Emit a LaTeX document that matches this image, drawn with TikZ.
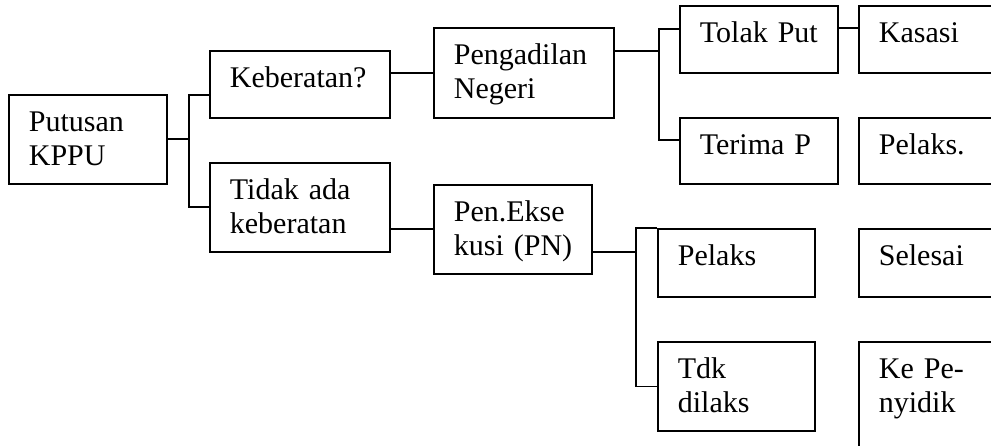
\documentclass[tikz,border=0pt]{standalone}
\usepackage{fontspec}
\setmainfont{Liberation Serif}
\begin{document}
\begin{tikzpicture}[x=1pt,y=-1pt,line width=1.8pt,
    box/.style 2 args={draw,anchor=north west,align=left,inner xsep=20pt,inner ysep=0pt,
        text width=#1pt-40pt,text height=37pt,text depth=#2pt-37pt,
        font=\fontsize{30}{34}\selectfont}]
        \useasboundingbox(0,0)rectangle(991,446);
        \clip(0,0)rectangle(991,446);
        \node[box={158}{89}](putusan)at(8,94){Putusan\\KPPU};
        \node[box={180}{67}](keberatan)at(209,50){Keberatan?};
        \node[box={180}{89}](tidak)at(209,162){Tidak~ada\\keberatan};
        \node[box={180}{90}](pengadilan)at(433,27){Pengadilan\\Negeri};
        \node[box={158}{89}](eksekusi)at(433,184){Pen.Ekse\\kusi~(PN)};
        \node[box={158}{67}](tolak)at(679,5){Tolak~Put};
        \node[box={158}{66}](terima)at(679,117){Terima~P};
        \node[box={160}{67}](kasasi)at(858,5){Kasasi};
        \node[box={160}{66}](pelakstitik)at(858,117){Pelaks.};
        \node[box={157}{68}](pelaks)at(657,228){Pelaks};
        \node[box={157}{89}](tdk)at(657,341){Tdk\\dilaks};
        \node[box={160}{68}](selesai)at(858,228){Selesai};
        \node[box={160}{120}](penyidik)at(858,341){Ke~Pe-\\nyidik};
        \draw(putusan.east)--++(21,0)coordinate(j1)|-([yshift=-10.5pt]keberatan.west);
        \draw(j1)|-(tidak.west);
        \coordinate(k1)at([yshift=11.5pt]keberatan.east);
        \draw(k1)--(k1-|pengadilan.west);
        \draw(eksekusi.west)--(eksekusi.west-|tidak.east);
        \draw([yshift=22pt]pengadilan.east)--++(44,0)coordinate(j2)|-([yshift=10.5pt]tolak.west);
        \draw(j2)|-([yshift=11pt]terima.west);
        \coordinate(t1)at([yshift=11.5pt]tolak.east);
        \draw(t1)--(t1-|kasasi.west);
        \draw([yshift=-22.5pt]eksekusi.east)--++(43,0)coordinate(j3)|-(pelaks.north west);
        \draw(j3)|-(tdk.west);
    \end{tikzpicture}
\end{document}
